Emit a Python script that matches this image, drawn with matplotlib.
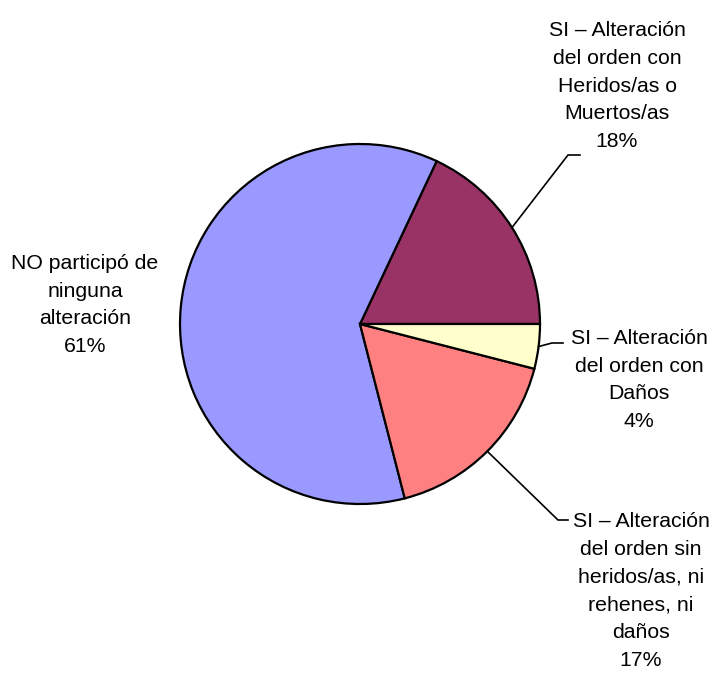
import numpy as np
import matplotlib
matplotlib.use("Agg")
import matplotlib.pyplot as plt
from matplotlib import font_manager

categories = [
    "SI – Alteración\ndel orden con\nHeridos/as o\nMuertos/as",
    "NO participó de\nninguna\nalteración",
    "SI – Alteración\ndel orden sin\nheridos/as, ni\nrehenes, ni\ndaños",
    "SI – Alteración\ndel orden con\nDaños",
]
values = [18, 61, 17, 4]
colors = ["#993366", "#9999FF", "#FF8080", "#FFFFCC"]

names = {f.name for f in font_manager.fontManager.ttflist}
fam = ["Liberation Sans Narrow"] if "Liberation Sans Narrow" in names else ["Liberation Sans"]
plt.rcParams["font.family"] = fam + ["DejaVu Sans"]
fs = 17.5 if fam[0] == "Liberation Sans Narrow" else 15.3
ls = 1.2 if fam[0] == "Liberation Sans Narrow" else 1.58

W, H = 716, 675
fig = plt.figure(figsize=(W / 100, H / 100), dpi=100)
ax = fig.add_axes([0, 0, 1, 1])

cx, cy, r = 360, H - 324, 180
wedges, _ = ax.pie(values, colors=colors, startangle=0, counterclock=True,
                   center=(cx, cy), radius=r, frame=True,
                   wedgeprops=dict(edgecolor="black", linewidth=1.6))
ax.set_xlim(0, W)
ax.set_ylim(0, H)
ax.set_aspect("equal")
ax.axis("off")

# label text centers (pixel layout) and leader-line elbows
label_pos = [(617, H - 86), (85, H - 305), (641, H - 591), (639, H - 380)]
elbows = [((568, H - 155), (580, H - 155)), None,
          ((558, H - 520), (568, H - 520)), ((552, H - 343), (563, H - 343))]

for w, cat, v, pos, elb in zip(wedges, categories, values, label_pos, elbows):
    ax.text(pos[0], pos[1], f"{cat}\n{v}%", ha="center", va="center",
            multialignment="center", fontsize=fs, linespacing=ls, color="black")
    if elb is not None:
        ang = np.deg2rad((w.theta1 + w.theta2) / 2)
        sx, sy = cx + r * np.cos(ang), cy + r * np.sin(ang)
        ax.plot([sx, elb[0][0], elb[1][0]], [sy, elb[0][1], elb[1][1]],
                color="black", lw=1.2, solid_joinstyle="miter")

fig.savefig("out.png", dpi=100)
